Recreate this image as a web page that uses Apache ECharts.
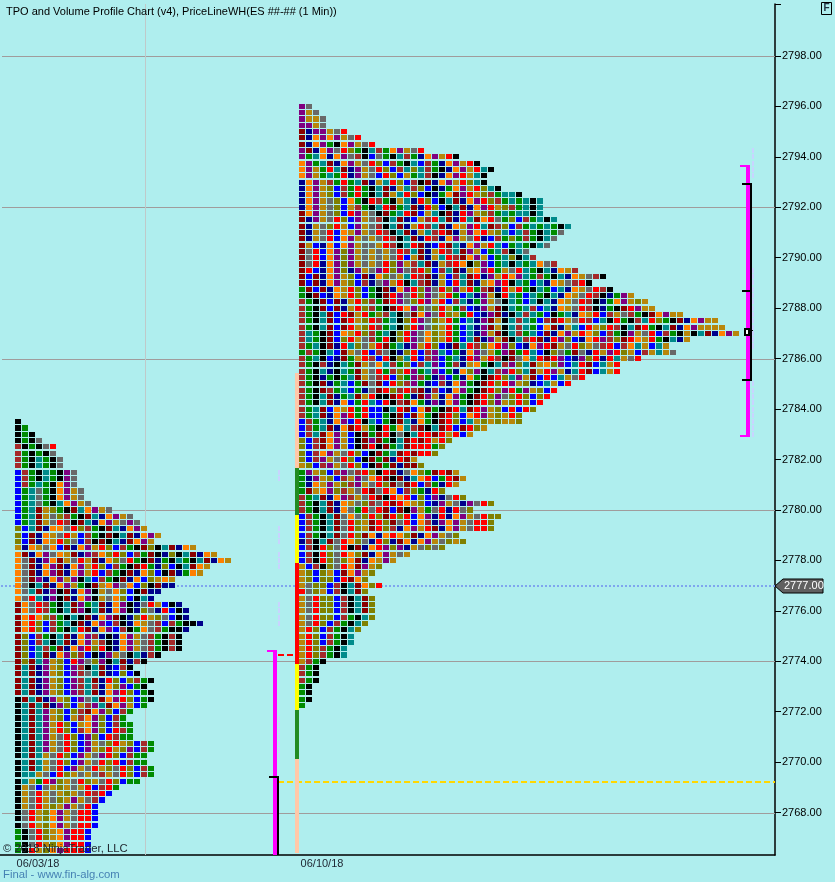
<!DOCTYPE html>
<html><head><meta charset="utf-8">
<style>html,body{margin:0;padding:0;background:#AFEEEE}#c{width:835px;height:882px}</style>
<script src="https://cdn.jsdelivr.net/npm/echarts@6/dist/echarts.min.js"></script>
</head><body><div id="c"></div>
<script>
// TPO letters -> colour
const palette={P:'#800080',A:'#696969',D:'#B8860B',M:'#8B0000',N:'#00008B',O:'#FF8000',G:'#008B00',K:'#000000',T:'#008B8B',R:'#FF0000',B:'#0000FF',W:'#A52A2A',L:'#808000'};
const tickPrices=[2768,2770,2772,2774,2776,2778,2780,2782,2784,2786,2788,2790,2792,2794,2796,2798];
const majorPrices=[2768,2774,2780,2786,2792,2798];
const priceMin=2766.32, priceMax=2800.06;
const lastPrice=2777;
const dateLabels=[[38,'06/03/18'],[322,'06/10/18']];
const rowStep=0.25, barsPerCell=7;
const leftStartBar=15, leftTopPrice=2783.5;
const rightStartBar=299, rightTopPrice=2796;
const leftRows=[
"K","KG","KGK","KGKA","WKGKAR","WGKGKA","WGKTGKA","WGKTGKA","BWGKTGKPA","BWGKTGKPA","BWGTGKOPA","BGTAGKOPDA","BGTAGKOPDA","BGTAGKTOPDA",
"BGTMDLGKMT OPDA","BGTMDALWGK MTNOPDA","BGTMDARWKM TNOPDAPA","LBTMNOOARL WGKMTNOPD","LBMNODARDB WGKMKTMNOP D","LBMNODRLAB WKMKTNMOPD",
"DNODAOBMNO PDRLBWGKML KTMNOD","OMNOPAODMN PWOLRLBWGM KNLKTMNOD","OAMNPOMDAR DMNOLARGKM NGKTGKTMNO D","OAMNOPMNOP DRLBWGKMRG NLBKTMOD",
"OAMNOPMNOP DRBWGKMNOL BKMNGOD","OAMPNOPDPK TBWGKMNOBL DOD","OAKTMNOPDG KMDOPAOBLK MNN","OATMNPKMNO PKDAOLBKMN N","OARTNPKMNO PKDAOLBKTN",
"MOARWGKTMP GTMNOPKNAR DBKN","MOARWGKTMP KTMNOPKNLA NRBKN","MOROLWGKTK MNOPMKNLRD LABKN","MORLBWGTKM NOPBWKNODA WBWGKKN","MORLBWGKTR MNOPBWKGOA WGKKN",
"MLBWGKTMNO PWNKNOPDAW GKWK","MLBWTKTMNO PDWKNOPDAW GKWK","MLBTWGMNOP RLRKNOPDAW GKWK","MLBTMNOPLW BKNPDAKTNW K","MLMTPDLBRP ALPKTMNWK",
"MTMNPDLBPW KTMNBWK","MTMNPDLBPW ATMNBLBK","MTMNPDLBPW TMNRLBLWGK","MTMNPDLBPW TWNOLPBGK","MTMNPDLBPW TMNOPRLBGK","KMTMNPDLBP ATMOPRLBGK",
"KTMTMNPLBD WPTMOPDBG","KTMTPDLBLW MOPLBWG","KTMTPDLBDW OPLBWG","KTMTPDRLBD OPLBWGG","KTMTPDRLBW OPLBRWG","KTMTPDARLB PLBRWGG",
"KTMTPDARLB PDALRDLBWG","KTMTPDARLB PDLRDLPBWG","KTMTDARLBP DAPRLBWGG","KTMTDARLBP DARLRBWGG","KTMTDARBPD ARDLARLBWG","KTTDABRLDA DAWDARLBWG",
"KTDGRPLDAR LDARLBGG","KDABADLDAD RBWRG","KDARDADLDA RWRB","KDARDALDPD AWB","KDARDLDPDA RB","KARDLOPDAR RB","KARDLOPDAR RB","KARDLOPDAR RB",
"GKARLDOPRR B","GKARLDOPRR B","GKARDLOPRR B","GKRDLOPRRR B"];
const rightRows=[
"PA","PDA","PDDA","PPDA","MNPPDAR","MNOPOPDAR","MNOPGKOPDAR","PMNOPARLGK TWGOPDAR","PGTONOPAWK BAGKTWGNOP DRK","OPGTMNOPDA RLBWGKTBWG NOPDRK",
"OPDGRTMNPD ARLBWTLTWG KNOPDRTK","OPDGTGRNPD ABRLBDGTWK NOPRDTK","NOPDWGRGTM NDTRLBWKMN OPDRLTK","NOPDLBWGRG KTMNDTWLBK NGOPDRLTK",
"NOPDLBWGRG KTMDTRLBKN GOMPRDLWGT TK","NOPDALBOGK RWGKDTNRLB KTMNOPRLWG TGTKT","NOPDALBDWG KTRMGTMNRL BKTMNOPRDL WGTKT","MOPDALBRPD AKMGTRMBDT KMNRPDLWGT GTTKT",
"MNPDARLBPD AWKTMNBDWR TMNRTMORAG LBWGTKT","MNDALRDBPD AWKTMNDRWT MNODPRTMWL BWGTGTGKT","MNDARBODPD ARWKTMNDTW RMNDPORDLT BTWGKTGA",
"MNDARBOPDA DARWKTMNRW NOPDARNBWG LGWGKTA","MDBNOBOPDA ADRWKTRMNB RMTNOPDRTB GTGKTA","MARBOPLPDA DADARWTMND RWTMPDBGTW KTA","MARBOPLPDA DADARBDMND TRWMOPDBGT LKTW",
"MARNOPLPDA DARLPDWTMN DWROKLPBGT KTGTOAW","MRBNOPLNPD APRLPAWRLB WTMNDOPRGD ARTGKTNODW","MBMNOPDLBM NOLADTRWMN DBWTMRNPDR OPTGWGKTNO DAWK",
"MBMNOPDLBW NAPDRKTWMN DBRTMNDOPR KTGBTNODAW RK","GMBMNODRLB GKMNOPRLPA RLPDRGWMNR DRGKTGBTNO DARWK","GKMBNODRLB GKMRPARLPA DRGBTNPDKR TGBTGKTNOD ARWKNGPD",
"WGKMBMNDRL WGMRPALRPD RBWTNGPDAK TGBTKTNODA RWKNGOPDLD","WGKMBMNDRL WGKMROPLAL RDGWBNPDMK TGTWBTNODA RWKNGKMRPD D",
"WGKTMBRMDR GLWTKAMOPA RLDGRBNPMN KTWTGBKGTN ODRBWDAWGK MOPDD","WGKTMBMRDL RWGTKLRPAL DRGBTNPMDK TWTGBWMRDA RWBTKRGKWT RLGKMNOPDD",
"WGKTMBMRDL RWGTKLRPAL DRGBTNPMDK TWTGBOMNDT BRDLRWKTMR GKTMNOPDDD D","WTGKMBODRL WGTKLRPAOL DRGBTNPDMK TWGTBMNOPD ROLBWGKPDA RBWGKDKTMN OPD",
"WTGKMBLRDA WGRKLRPAOL DRGBTMNPDM KTWRMNRPLB NORPWLMROD RGKTND","WGTKMNRTLA DRMGTNPDRL BNMTRWLORP LBNOPRMDAR LDAWRBWOTD BTD",
"GWGKTBMDAR BWAKNLRBWP TBGNOPADGP MGRTBKLAGM ANRDPRLDBW DTDA","WGTKBNMGDR WBRKLTRBWP BGTNRPDRWK MAOTRMRPBN PLRNRTDAR",
"WGKWNKTGMD AOTWGLBWTP BGWNDOGKTW PLTMDOLPBT RMBTDR","WGKTNKTGMD ARGWLRPGTP BGNOLPKTWP RLTMDRPDNT RMBTDR","WGKNGKGTMD AWRBLGPWGN PBGNOGKMRL TPDMBRBTDA R",
"WGKMNGTBGM AMBRLWPGNB WNOPGKMRLR PDLNBTDBR","WGKMWGTBGN AMRLWRWMNW BNOPGKMRLP RGPDLBR","WGKTMNGTMD RKKMRGNMPD NOPGKMRLPA LRLBLR","WGKTMNOBGR TBRKWMOGNP NOPGKMRLPD LRLBR",
"WGTMBODRGR BBKTRMBOMG KMRTMRPDLB RBRL","WGTMNOPRGR BBGKMBMOGK MRLBORPDLD RL","BWGTNOPBRK TBGKMTNOGK MRLBTDLDLD DL","BWGTMNOMRD GKRGOTWMKT MRBMRLD","BWTMOPDBKM GMRKAKTRRM RDRBD",
"LBWMOPDBKM PMGKTMRMRD RL","LBWMOPDBKM RKMGTMRRRG L","LBWOPDARLB KMGTMRMRRL","LBWPDARLBK MGMNRMD","DLBWPDARLB KMGMNMML","GPDLBWPAWR LKRMNAOLGM RMD","GNPDLBWDPA ORMKMNTORB GRMD",
"GNODPDLWPD ARLMAMRBWG NRD","GMDOPLWDAR MAROBWLGNR L","WGTMNOPWDA RMKRORBLBP NARL","WGKTMNODAL WARMRODLBN PDANPARL","WGKTMNOAGR ARMBMKPDGA RNRAL","BWGKTMAOAL RLMRLRBOPN RNOPDARLL",
"BWGKTMARLD MRLMARBOWN POPDARRL","BWGKTMARLD MRLWNOPDRM NOPDARRL","BWGKTMARLM ONOROLMNOP DAL","NWKTMAROLA NRLNMONOPD ALDL","BWKRLARKMN ORPLPNDALA L","BWKRLAROLM NOPDAD","BWKRLALOMN ODPD",
"DBWKLAROMP DL","DLBLDBMOPD L","DLBLLBRMOL","DALLBWKTMO LR","RALDBWKTML","DARLLBWKTM L","DARLLBWKTM L","DARLLBWKTM L","DARLLBWGKT L","DARLBWGKTL","DRLBWGKTL","DRLBWGKT","DRLBWGKT","DRLWGKT","DRLWGKT",
"DWGK","WGK","WGK","WGK","GK","GK","GK","G"];
// [firstBar,lastBar,priceTop,priceBottom,colour]
const peach='#FFC8A8',vaGreen='#228B22',yellow='#FFFF00',red='#FF0000',magenta='#FF00FF',black='#000000';
const valueBands=[[295,299,2785.43,2781.66,peach],[295,299,2781.66,2779.8,vaGreen],[295,299,2779.8,2777.9,yellow],[295,299,2777.9,2773.9,red],[295,299,2773.9,2772.07,yellow],[295,299,2772.07,2770.12,vaGreen],[295,299,2770.12,2766.4,peach]];
const rangeBars=[[273,277,2774.45,priceMin,magenta],[267,277,2774.45,2774.37,magenta],[277,279,2769.45,priceMin,black],[269,277,2769.45,2769.37,black],
[746,750,2793.68,2782.89,magenta],[740,750,2793.68,2793.6,magenta],[740,750,2782.97,2782.89,magenta],[750,752,2792.96,2785.11,black],[742,750,2792.96,2792.88,black],[742,750,2788.72,2788.64,black],[742,750,2785.19,2785.11,black],
[744,753,2787.22,2786.9,black],[746,748,2787.14,2786.98,'#FFFFFF']];
const faintLeft=[2781.5,2781.25,2779.25,2779,2778.75,2778.25,2778,2777.75,2776.25,2776,2775.75,2775.5,2771.75,2771.5,2771.25,2771,2770.75,2770.5,2770.25];
const faintRight=[2794.25,2794,2793.75,2793.5,2793.25,2789.5,2789.25,2789,2788.75,2788.5,2788.25,2788,2787.75,2787.5,2787.25,2787,2786.75,2786.5,2785,2784.75,2784.5,2784.25,2784,2783.75,2783.5,2783.25,2783];
const vGuide=[145,priceMin,priceMax];
const dashed=[[278,775,2769.21,'#FFD700',[6,3],2],[278,295,2774.25,'#FF0000',[6,3],2],[1,775,lastPrice,'#7FA6EE',[2,2],2]];

const cells=[];
function addProfile(rows,start,top){rows.forEach((s,r)=>{s.replace(/ /g,'').split('').forEach((c,i)=>{cells.push([start+i*barsPerCell,top-r*rowStep,palette[c]]);});});}
addProfile(leftRows,leftStartBar,leftTopPrice);
addProfile(rightRows,rightStartBar,rightTopPrice);
const rects=[...valueBands,...rangeBars,
 ...faintLeft.map(p=>[278,280,p+0.1,p-0.1,'#C8D4FF']),...faintRight.map(p=>[752,754,p+0.1,p-0.1,'#C8D4FF'])];
const ruleRows=[...majorPrices.map(p=>[2,775,p]) ];

function rectItem(a,api){
 const t=api.coord([a[0],a[2]]),b=api.coord([a[1],a[3]]);
 const x=Math.round(t[0]),y=Math.round(t[1]);
 return {type:'rect',shape:{x:x,y:y,width:Math.round(b[0])-x,height:Math.round(b[1])-y},style:{fill:a[4]}};
}
const chart=echarts.init(document.getElementById('c'),null,{renderer:'canvas'});
const font='"Liberation Sans",Arial,sans-serif';
chart.setOption({
 animation:false,backgroundColor:'#AFEEEE',
 grid:{left:0,top:4,width:775,height:851},
 xAxis:{type:'value',min:0,max:775,splitLine:{show:false},axisTick:{show:false},
  axisLine:{onZero:false,lineStyle:{color:'#000',width:1.5}},
  axisLabel:{customValues:dateLabels.map(d=>d[0]),formatter:v=>{const d=dateLabels.find(e=>e[0]===v);return d?d[1]:'';},color:'#1c2430',fontFamily:font,fontSize:11,margin:3,hideOverlap:false,showMinLabel:true,showMaxLabel:true}},
 yAxis:{type:'value',position:'right',min:priceMin,max:priceMax,splitLine:{show:false},
  axisLine:{onZero:false,lineStyle:{color:'#000',width:1.5}},
  axisTick:{length:6,customValues:[...tickPrices,priceMax],lineStyle:{color:'#000',width:1}},
  axisLabel:{customValues:tickPrices,formatter:v=>v.toFixed(2),color:'#000',fontFamily:font,fontSize:11,margin:7}},
 graphic:[
  {type:'text',left:6,top:6,z:50,style:{text:'TPO and Volume Profile Chart (v4), PriceLineWH(ES ##-## (1 Min))',fill:'#000',font:'11px '+font}},
  {type:'text',left:3,top:843,z:50,style:{text:'© 2018 NinjaTrader, LLC',fill:'#202830',font:'11.3px '+font}},
  {type:'text',left:3,top:869,z:50,style:{text:'Final - www.fin-alg.com',fill:'#4682B4',font:'11.3px '+font}},
  {type:'rect',left:821,top:2,z:50,shape:{width:10,height:12},style:{fill:'#AFEEEE',stroke:'#000',lineWidth:1}},
  {type:'text',left:823.5,top:3.5,z:51,style:{text:'F',fill:'#203040',font:'bold 10px '+font}}
 ],
 series:[
  {type:'custom',z:1,silent:true,coordinateSystem:'cartesian2d',data:ruleRows,renderItem:(p,api)=>{const a=ruleRows[p.dataIndex];const c0=api.coord([a[0],a[2]]),c1=api.coord([a[1],a[2]]);return {type:'rect',shape:{x:c0[0],y:Math.round(c0[1]),width:c1[0]-c0[0],height:1},style:{fill:'#A09C9C'}};}},
  {type:'custom',z:1,silent:true,coordinateSystem:'cartesian2d',data:[vGuide],renderItem:(p,api)=>{const t=api.coord([vGuide[0],vGuide[2]]),b=api.coord([vGuide[0],vGuide[1]]);return {type:'rect',shape:{x:t[0],y:t[1],width:1,height:b[1]-t[1]},style:{fill:'#BFC9C9'}};}},
  {type:'custom',z:2,silent:true,coordinateSystem:'cartesian2d',data:dashed,renderItem:(p,api)=>{const a=dashed[p.dataIndex];const c0=api.coord([a[0],a[2]]),c1=api.coord([a[1],a[2]]);const y=Math.round(c0[1]);return {type:'line',shape:{x1:c0[0],y1:y,x2:c1[0],y2:y},style:{stroke:a[3],lineDash:a[4],lineWidth:a[5],fill:null}};}},
  {type:'custom',z:3,silent:true,coordinateSystem:'cartesian2d',data:cells,renderItem:(p,api)=>{const c=cells[p.dataIndex];
    const t=api.coord([c[0],c[1]+rowStep/2]),b=api.coord([c[0],c[1]-rowStep/2]);
    const x=Math.round(t[0]),y=Math.round(t[1]+0.6),h=Math.round(b[1]-0.6)-y;
    return {type:'rect',shape:{x:x,y:y,width:6,height:h},style:{fill:c[2]}};}},
  {type:'custom',z:4,silent:true,coordinateSystem:'cartesian2d',data:rects,renderItem:(p,api)=>rectItem(rects[p.dataIndex],api)},
  {type:'custom',z:5,silent:true,coordinateSystem:'cartesian2d',clip:false,data:[[775,lastPrice]],renderItem:(p,api)=>{const c=api.coord([775,lastPrice]);const x=c[0],y=Math.round(c[1]);
    return {type:'group',children:[
     {type:'polygon',shape:{points:[[x,y],[x+8,y-7],[x+48,y-7],[x+48,y+7],[x+8,y+7]]},style:{fill:'#606060',stroke:'#000',lineWidth:1}},
     {type:'text',style:{x:x+9,y:y,text:lastPrice.toFixed(2),fill:'#fff',font:'11px '+font,verticalAlign:'middle'}}]};}}
 ]
});
</script></body></html>
